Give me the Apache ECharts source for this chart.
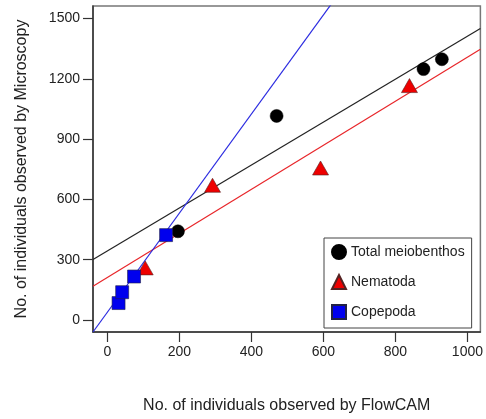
<!DOCTYPE html>
<html>
<head>
<meta charset="utf-8">
<script src="https://cdn.jsdelivr.net/npm/echarts@6/dist/echarts.min.js"></script>
<style>html,body{margin:0;padding:0;background:#fff}#c{width:486px;height:419px}</style>
</head>
<body>
<div id="c"></div>
<script>
var seriesNames = ['Total meiobenthos', 'Nematoda', 'Copepoda'];
var totalX = [196, 470, 878, 929];
var totalY = [441, 1015, 1248, 1297];
var nemX = [105, 292, 592, 839];
var nemY = [259, 670, 756, 1166];
var copX = [31, 41, 74, 163];
var copY = [84, 138, 216, 422];
var fitSlope = [1.068, 1.096, 2.465];
var fitIntercept = [343.3, 211.4, 38.6];
var xTicks = [0, 200, 400, 600, 800, 1000];
var yTicks = [0, 300, 600, 900, 1200, 1500];
var xMin = -40, xMax = 1036, yMin = -60, yMax = 1562;

function pairs(xs, ys) { return xs.map(function (x, i) { return [x, ys[i]]; }); }
function fitLine(i) {
  return [[xMin, fitSlope[i] * xMin + fitIntercept[i]], [xMax, fitSlope[i] * xMax + fitIntercept[i]]];
}
function plain(v) { return String(v); }
var font = 'Liberation Sans, Arial, Helvetica, sans-serif';
var lineColors = ['#222222', '#e8262a', '#2a2ae0'];

var chart = echarts.init(document.getElementById('c'));
chart.setOption({
  animation: false,
  textStyle: { fontFamily: font },
  grid: { left: 93, right: 4, top: 6, bottom: 83.5, show: true, borderColor: '#777', borderWidth: 1.5, backgroundColor: '#fff' },
  xAxis: {
    type: 'value', min: xMin, max: xMax,
    name: 'No. of individuals observed by FlowCAM', nameLocation: 'middle', nameGap: 66,
    nameTextStyle: { fontSize: 16, color: '#222', fontFamily: font },
    axisLine: { show: true, onZero: false, lineStyle: { color: '#333', width: 1.5 } },
    axisTick: { show: true, length: 10, customValues: xTicks, lineStyle: { color: '#333', width: 1.2 } },
    axisLabel: { customValues: xTicks, formatter: plain, margin: 13, fontSize: 14, color: '#222', fontFamily: font },
    splitLine: { show: false }
  },
  yAxis: {
    type: 'value', min: yMin, max: yMax,
    name: 'No. of individuals observed by Microscopy', nameLocation: 'middle', nameGap: 63, nameRotate: 90,
    nameTextStyle: { fontSize: 16, color: '#222', fontFamily: font },
    axisLine: { show: true, onZero: false, lineStyle: { color: '#333', width: 1.5 } },
    axisTick: { show: true, length: 10, customValues: yTicks, lineStyle: { color: '#333', width: 1.2 } },
    axisLabel: { customValues: yTicks, formatter: plain, margin: 13, fontSize: 14, color: '#222', fontFamily: font },
    splitLine: { show: false }
  },
  legend: {
    orient: 'vertical', left: 324, top: 238,
    data: seriesNames,
    backgroundColor: '#fff', borderColor: '#444', borderWidth: 1,
    padding: [6, 7, 8, 7], itemGap: 14, itemWidth: 14, itemHeight: 14,
    textStyle: { fontSize: 14, color: '#222', fontFamily: font }
  },
  series: [
    { type: 'line', name: 'fit0', data: fitLine(0), symbol: 'none', clip: true, silent: true, lineStyle: { color: lineColors[0], width: 1.2 }, z: 1 },
    { type: 'line', name: 'fit1', data: fitLine(1), symbol: 'none', clip: true, silent: true, lineStyle: { color: lineColors[1], width: 1.2 }, z: 1 },
    { type: 'line', name: 'fit2', data: fitLine(2), symbol: 'none', clip: true, silent: true, lineStyle: { color: lineColors[2], width: 1.2 }, z: 1 },
    { type: 'scatter', name: seriesNames[0], data: pairs(totalX, totalY), symbol: 'circle', symbolSize: 13,
      itemStyle: { color: '#000', borderColor: '#000', borderWidth: 0.5, opacity: 1 }, z: 3 },
    { type: 'scatter', name: seriesNames[1], data: pairs(nemX, nemY), symbol: 'triangle', symbolSize: [16, 14],
      itemStyle: { color: '#ee0000', borderColor: '#552222', borderWidth: 0.6, opacity: 1 }, z: 3 },
    { type: 'scatter', name: seriesNames[2], data: pairs(copX, copY), symbol: 'rect', symbolSize: 13,
      itemStyle: { color: '#0000ee', borderColor: '#222244', borderWidth: 0.6, opacity: 1 }, z: 3 }
  ]
});
</script>
</body>
</html>
